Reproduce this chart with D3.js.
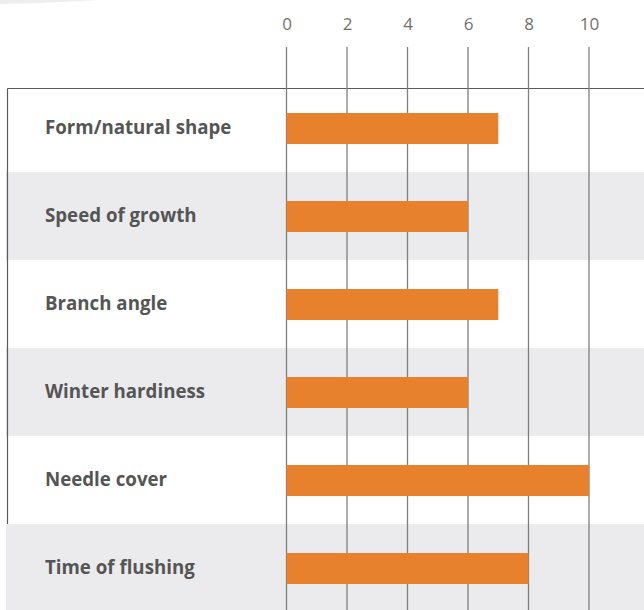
<!DOCTYPE html>
<html>
<head>
<meta charset="utf-8">
<script src="https://cdn.jsdelivr.net/npm/d3@7"></script>
<style>
  body { margin: 0; background: #fff; }
  svg { display: block; }
</style>
</head>
<body>
<div id="chart"></div>
<script>
// Chart data
var categories = ["Form/natural shape", "Speed of growth", "Branch angle", "Winter hardiness", "Needle cover", "Time of flushing"];
var scores = [7, 6, 7, 6, 10, 8];
var tickValues = [0, 2, 4, 6, 8, 10];

var svgWidth = 644;
var svgHeight = 610;

var svg = d3.select("#chart")
  .append("svg")
  .attr("width", svgWidth)
  .attr("height", svgHeight);

// faint decoration in top-left corner
svg.append("path")
  .attr("d", "M0,0 L0,4 Q50,3 100,0 Z")
  .attr("fill", "#eceeee");

// Scales
var xScale = d3.scaleLinear()
  .domain([0, 10])
  .range([286.5, 589]);

var yScale = d3.scaleBand()
  .domain(categories)
  .range([84, 84 + 88 * categories.length]);

// Alternating row backgrounds
svg.selectAll("rect.band")
  .data(categories)
  .enter()
  .append("rect")
  .attr("class", "band")
  .attr("x", 6)
  .attr("y", d => yScale(d))
  .attr("width", svgWidth - 6)
  .attr("height", yScale.bandwidth())
  .attr("fill", (d, i) => i % 2 ? "#ebebed" : "#fff");

// Frame (top and left)
var frame = svg.append("g");
frame.append("line")
  .attr("x1", 7.5).attr("x2", svgWidth)
  .attr("y1", 88.5).attr("y2", 88.5)
  .attr("stroke", "#5a5a5a").attr("stroke-width", 1.2);
frame.append("line")
  .attr("x1", 7.5).attr("x2", 7.5)
  .attr("y1", 88.5).attr("y2", yScale(categories[5]))
  .attr("stroke", "#5a5a5a").attr("stroke-width", 1.2);

// Axis on top, with grid lines
var topAxis = d3.axisTop(xScale)
  .tickValues(tickValues)
  .tickSize(0)
  .tickPadding(0);

var axisGroup = svg.append("g")
  .attr("transform", "translate(0, 30)")
  .call(topAxis);
axisGroup.select(".domain").remove();
axisGroup.selectAll("text")
  .attr("fill", "#707070")
  .attr("font-family", "'Open Sans', sans-serif")
  .attr("font-weight", 400)
  .attr("font-size", "17px");

svg.append("g")
  .selectAll("line")
  .data(tickValues)
  .enter()
  .append("line")
  .attr("x1", d => xScale(d))
  .attr("x2", d => xScale(d))
  .attr("y1", 47)
  .attr("y2", svgHeight)
  .attr("stroke", "#7f7f7f")
  .attr("stroke-width", 1.3);

// Bars
var barHeight = 31;
svg.selectAll("rect.bar")
  .data(scores)
  .enter()
  .append("rect")
  .attr("class", "bar")
  .attr("x", xScale(0))
  .attr("y", (d, i) => yScale(categories[i]) + yScale.bandwidth() / 2 - barHeight / 2 + 0.5)
  .attr("width", d => xScale(d) - xScale(0))
  .attr("height", barHeight)
  .attr("fill", "#e8812e");

// Category labels
svg.selectAll("text.label")
  .data(categories)
  .enter()
  .append("text")
  .attr("class", "label")
  .attr("x", 45)
  .attr("y", d => yScale(d) + yScale.bandwidth() / 2 - 1)
  .attr("dy", "0.35em")
  .attr("fill", "#555")
  .attr("font-family", "'Open Sans', sans-serif")
  .attr("font-weight", "bold")
  .attr("font-size", "18.7px")
  .text(d => d);
</script>
</body>
</html>
